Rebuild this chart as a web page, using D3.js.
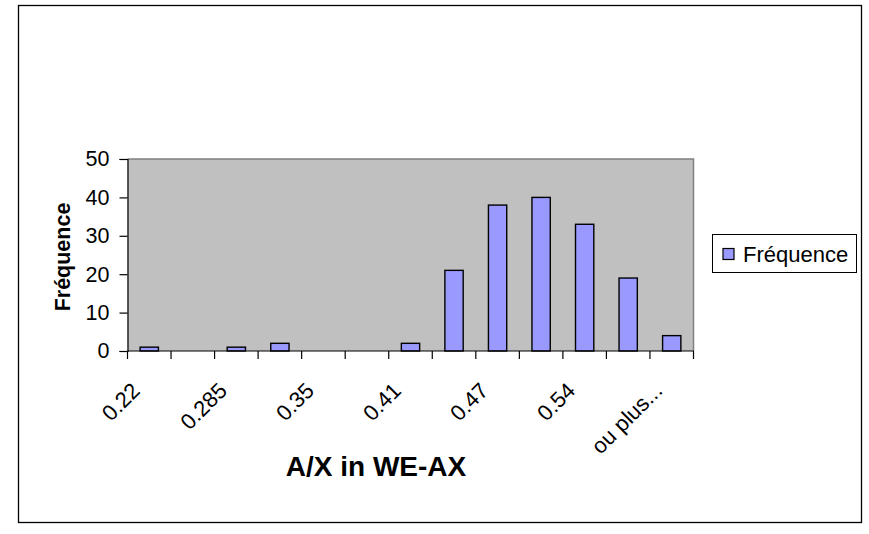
<!DOCTYPE html>
<html>
<head>
<meta charset="utf-8">
<script src="https://cdn.jsdelivr.net/npm/d3@7"></script>
<style>
  html, body { margin: 0; padding: 0; background: #fff; }
  svg { display: block; font-family: "Liberation Sans", Arial, sans-serif; }
</style>
</head>
<body>
<svg id="chart" width="869" height="534"></svg>
<script>
// Histogram bins (upper bounds) and their counts
const categories = ["0.22", "0.2525", "0.285", "0.3175", "0.35", "0.38", "0.41",
                    "0.44", "0.47", "0.505", "0.54", "0.575", "ou plus..."];
const counts = [1, 0, 1, 2, 0, 0, 2, 21, 38, 40, 33, 19, 4];
// Every other bin carries a label on the axis
const shownLabels = ["0.22", "0.285", "0.35", "0.41", "0.47", "0.54", "ou plus..."];
const yTicks = [0, 10, 20, 30, 40, 50];
const seriesName = "Fréquence";
const xTitle = "A/X in WE-AX";
const yTitle = "Fréquence";

const svg = d3.select("#chart");

// Chart frame
svg.append("rect")
  .attr("x", 18.5).attr("y", 5.5)
  .attr("width", 843).attr("height", 517)
  .attr("fill", "#fff").attr("stroke", "#000").attr("stroke-width", 1.3);

const plot = { left: 127.5, right: 693.5, top: 159, bottom: 351 };

const x = d3.scaleBand()
  .domain(categories)
  .range([plot.left, plot.right])
  .paddingInner(0).paddingOuter(0);

const y = d3.scaleLinear()
  .domain([0, 50])
  .range([plot.bottom, plot.top]);

// Plot area
svg.append("rect")
  .attr("x", plot.left).attr("y", plot.top)
  .attr("width", plot.right - plot.left).attr("height", plot.bottom - plot.top)
  .attr("fill", "#C0C0C0");
svg.append("path")
  .attr("d", `M${plot.left},${plot.top}H${plot.right}V${plot.bottom}`)
  .attr("fill", "none").attr("stroke", "#808080").attr("stroke-width", 1.5);

// Bars
const barW = x.bandwidth() * 0.42;
svg.append("g").selectAll("rect")
  .data(categories.map((c, i) => ({ c, v: counts[i] })))
  .join("rect")
  .attr("x", d => x(d.c) + (x.bandwidth() - barW) / 2)
  .attr("y", d => y(d.v))
  .attr("width", barW)
  .attr("height", d => y(0) - y(d.v))
  .attr("fill", "#9999FF")
  .attr("stroke", "#000")
  .attr("stroke-width", 1.4)
  .style("display", d => d.v > 0 ? null : "none");

// Y axis
const yAxis = d3.axisLeft(y).tickValues(yTicks).tickSize(8).tickPadding(10)
  .tickFormat(d3.format("d"));
const gy = svg.append("g").attr("transform", `translate(${plot.left},0)`).call(yAxis);
gy.select(".domain").attr("stroke", "#000").attr("stroke-width", 1.2);
gy.selectAll(".tick line").attr("stroke", "#000").attr("stroke-width", 1.2);
gy.selectAll(".tick text")
  .attr("font-size", 21.5).attr("fill", "#000")
  .attr("font-family", "Liberation Sans, Arial, sans-serif");

// X axis: ticks sit on bin boundaries
const boundaries = categories.map(c => x(c)).concat([plot.right]);
const gx = svg.append("g");
gx.append("line")
  .attr("x1", plot.left).attr("x2", plot.right)
  .attr("y1", plot.bottom).attr("y2", plot.bottom)
  .attr("stroke", "#000").attr("stroke-width", 1.2);
gx.selectAll("line.tick")
  .data(boundaries)
  .join("line")
  .attr("class", "tick")
  .attr("x1", d => d).attr("x2", d => d)
  .attr("y1", plot.bottom).attr("y2", plot.bottom + 8)
  .attr("stroke", "#000").attr("stroke-width", 1.2);

gx.selectAll("text")
  .data(shownLabels)
  .join("text")
  .attr("transform", d => {
    const cx = x(d) + x.bandwidth() / 2 - 8;
    return `translate(${cx},${plot.bottom + 41}) rotate(-45)`;
  })
  .attr("text-anchor", "end")
  .attr("font-size", 22)
  .attr("fill", "#000")
  .text(d => d);

// Axis titles
svg.append("text")
  .attr("x", 376).attr("y", 476)
  .attr("text-anchor", "middle")
  .attr("font-size", 28).attr("font-weight", "bold")
  .text(xTitle);

svg.append("text")
  .attr("transform", `translate(70,257) rotate(-90)`)
  .attr("text-anchor", "middle")
  .attr("font-size", 21.5).attr("font-weight", "bold")
  .text(yTitle);

// Legend
const lg = svg.append("g");
lg.append("rect")
  .attr("x", 712.5).attr("y", 234.5).attr("width", 144).attr("height", 38)
  .attr("fill", "#fff").attr("stroke", "#000").attr("stroke-width", 1);
lg.append("rect")
  .attr("x", 723).attr("y", 248.5).attr("width", 11).attr("height", 11)
  .attr("fill", "#9999FF").attr("stroke", "#000").attr("stroke-width", 1.2);
lg.append("text")
  .attr("x", 743).attr("y", 262)
  .attr("font-size", 22).attr("fill", "#000")
  .text(seriesName);
</script>
</body>
</html>
